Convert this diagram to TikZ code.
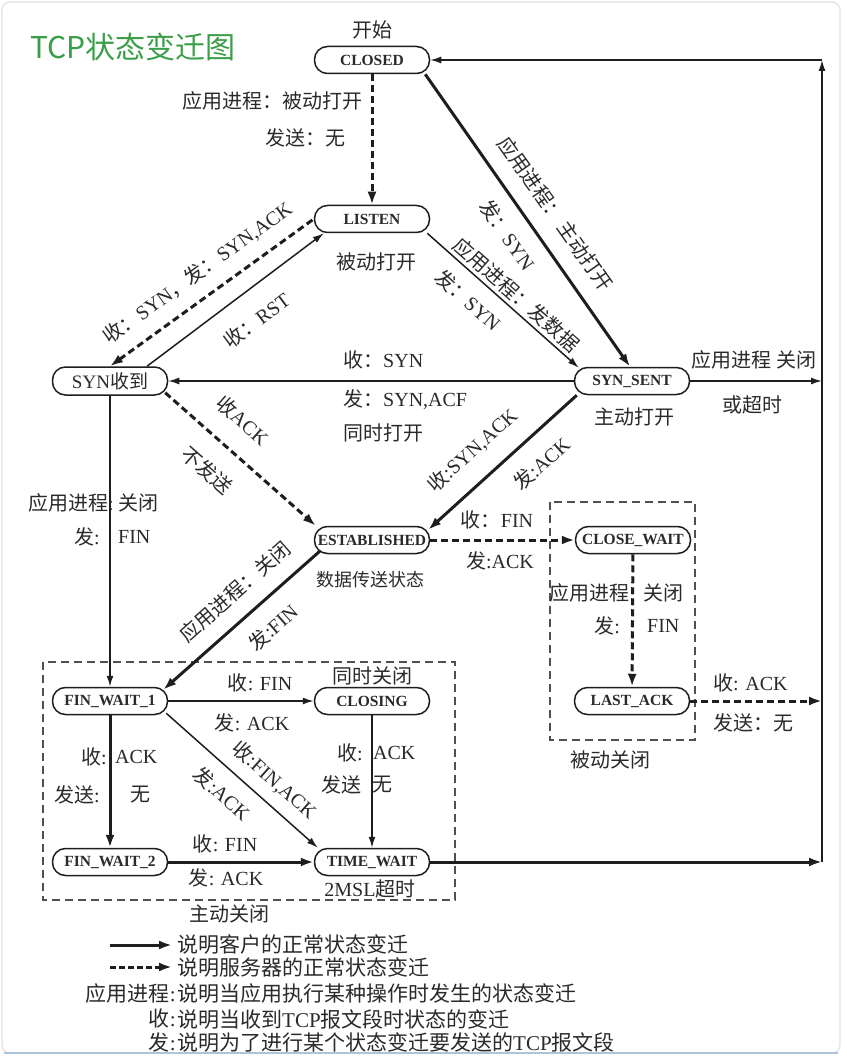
\documentclass[tikz,border=0pt]{standalone}
\usepackage{fontspec}
\setmainfont{Liberation Serif}
\newfontfamily\cjkfont{Noto Sans CJK SC}
\usetikzlibrary{arrows.meta}
\newcommand\Zh[1]{{\cjkfont #1}}
\definecolor{ink}{HTML}{1E1E1E}
\definecolor{txt}{HTML}{2A2A2A}
\definecolor{titlegreen}{RGB}{58,158,72}
\definecolor{boxgray}{HTML}{505050}
\definecolor{framegray}{HTML}{E2E2E2}
\definecolor{frameblue}{RGB}{175,195,220}
\tikzset{
  state/.style={draw=ink, line width=1.5pt, rounded corners=13pt, minimum width=115pt, minimum height=27pt, inner sep=1pt, text=txt, font=\fontsize{15.5}{16}\selectfont\bfseries},
  lab/.style={text=txt, inner sep=2pt, font=\fontsize{20}{22}\selectfont},
  leg/.style={text=txt, inner sep=2pt, font=\fontsize{21}{23}\selectfont},
  thinc/.style={draw=ink, line width=1.5pt, >={Latex[length=11pt,width=7pt]}},
  thickc/.style={draw=ink, line width=3pt, >={Latex[length=13pt,width=9pt]}},
  dashc/.style={draw=ink, line width=3pt, dash pattern=on 7pt off 4pt, >={Latex[length=13pt,width=9pt]}},
  groupbox/.style={draw=boxgray, line width=1.5pt, dash pattern=on 8pt off 5pt},
}
\begin{document}
\begin{tikzpicture}[x=1pt,y=-1pt]
\useasboundingbox (0,0) rectangle (846,1056);
\fill[white] (0,0) rectangle (846,1056);
\draw[framegray, line width=1.2pt, rounded corners=8pt] (2,2) rectangle (840,1053);
\draw[frameblue, line width=2pt] (4,1053) -- (838,1053);

\node[anchor=west, inner sep=0pt, text=titlegreen, font=\cjkfont\fontsize{30}{32}\selectfont] (title) at (30,47) {TCP状态变迁图};

% states
\node[state] (CLOSED) at (372,60) {CLOSED};
\node[state] (LISTEN) at (372,219) {LISTEN};
\node[state, font=\fontsize{19}{20}\selectfont, minimum height=28pt] (SYNR) at (110,381) {SYN\Zh{收到}};
\node[state] (SENT) at (632,381) {SYN\_SENT};
\node[state] (EST) at (372,540) {ESTABLISHED};
\node[state] (CW) at (633,540) {CLOSE\_WAIT};
\node[state] (LA) at (632,701) {LAST\_ACK};
\node[state] (FW1) at (110,701) {FIN\_WAIT\_1};
\node[state] (CLOSING) at (372,701) {CLOSING};
\node[state] (FW2) at (110,862) {FIN\_WAIT\_2};
\node[state] (TW) at (372,862) {TIME\_WAIT};

\coordinate (R1) at (822,60);
\coordinate (R2) at (822,381);
\coordinate (R3) at (822,701);
\coordinate (R4) at (822,862);

% group boxes
\draw[groupbox] (43,662) rectangle (455,900);
\draw[groupbox] (550,502) rectangle (695,740);

% state annotations
\node[lab] (tstart) at (372,30) {\Zh{开始}};
\node[lab] (t1) at (376,262) {\Zh{被动打开}};
\node[lab] (t2) at (634,417) {\Zh{主动打开}};
\node[lab, font=\fontsize{18}{20}\selectfont] (t3) at (370,580) {\Zh{数据传送状态}};
\node[lab] (t4) at (372,676) {\Zh{同时关闭}};
\node[lab] (t5) at (370,889) {2MSL\Zh{超时}};
\node[lab] (t6) at (229,914) {\Zh{主动关闭}};
\node[lab] (t7) at (610,760) {\Zh{被动关闭}};

% CLOSED -> LISTEN
\draw[dashc,->] (CLOSED) -- (LISTEN);
\node[lab, anchor=east] (l1a) at (365,101) {\Zh{应用进程：被动打开}};
\node[lab, anchor=east] (l1b) at (348,138) {\Zh{发送：无}};

% CLOSED -> SYN_SENT
\draw[thickc,->] ([xshift=-5pt]CLOSED.south east) -- ([xshift=-2pt]SENT.north)
  node[lab, sloped, pos=0.53, above=14pt] (l2a) {\Zh{应用进程：\,主动打开}}
  node[lab, sloped, pos=0.50, below=12pt] (l2b) {\Zh{发：}SYN};

% LISTEN -> SYN_SENT
\draw[thinc,->] ([xshift=-3pt]LISTEN.south east) -- ([xshift=5pt,yshift=-1pt]SENT.north west)
  node[lab, sloped, pos=0.53, above=1pt] (l3a) {\Zh{应用进程：发数据}}
  node[lab, sloped, pos=0.37, below=11pt] (l3b) {\Zh{发：}SYN};

% SYN_RCVD -> LISTEN
\draw[thinc,->] ([xshift=37pt]SYNR.north) -- ([xshift=10pt]LISTEN.south west)
  node[lab, sloped, pos=0.52, below=17pt] (l4) {\Zh{收：}RST};

% LISTEN -> SYN_RCVD
\draw[dashc,<-] (SYNR.north) -- (LISTEN.west)
  node[lab, sloped, pos=0.50, above=11pt] (l5) {\Zh{收：}SYN\Zh{，发：}SYN,ACK};

% SYN_SENT -> SYN_RCVD
\draw[thinc,->] (SENT) -- (SYNR);
\node[lab, anchor=west] (l6a) at (341,360) {\Zh{收：}SYN};
\node[lab, anchor=west] (l6b) at (341,400) {\Zh{发：}SYN,ACF};
\node[lab, anchor=west] (l6c) at (341,433) {\Zh{同时打开}};

% SYN_RCVD -> ESTABLISHED
\draw[dashc,->] ([xshift=-3pt,yshift=3pt]SYNR.south east) -- ([xshift=2pt]EST.north west)
  node[lab, sloped, pos=0.38, above=18pt] (l7a) {\Zh{收}ACK}
  node[lab, sloped, pos=0.41, below=18pt] (l7b) {\Zh{不发送}};

% SYN_SENT -> ESTABLISHED
\draw[thickc,<-] ([xshift=-2pt,yshift=-4pt]EST.north east) -- ([xshift=3pt]SENT.south west)
  node[lab, sloped, pos=0.43, above=16pt] (l8a) {\Zh{收}:SYN,ACK}
  node[lab, sloped, pos=0.64, below=14pt] (l8b) {\Zh{发}:ACK};

% SYN_SENT -> right
\draw[thinc,->] (SENT) -- (R2);
\node[lab] (l9a) at (754,360) {\Zh{应用进程 关闭}};
\node[lab] (l9b) at (752,405) {\Zh{或超时}};

% ESTABLISHED -> CLOSE_WAIT
\draw[dashc,->] (EST) -- (CW);
\node[lab] (l10a) at (497,520) {\Zh{收：}FIN};
\node[lab] (l10b) at (500,561) {\Zh{发}:ACK};

% CLOSE_WAIT -> LAST_ACK
\draw[dashc,->] (CW) -- (LA);
\node[lab, anchor=east] (l11a) at (632,593) {\Zh{应用进程}};
\node[lab, anchor=west] (l11b) at (641,593) {\Zh{关闭}};
\node[lab, anchor=east] (l11c) at (622,626) {\Zh{发}:};
\node[lab, anchor=west] (l11d) at (645,626) {FIN};

% LAST_ACK -> right
\draw[dashc,->] (LA) -- (R3);
\node[lab, anchor=west] (l12a) at (711,683) {\Zh{收}: ACK};
\node[lab, anchor=west] (l12b) at (711,723) {\Zh{发送：无}};

% SYN_RCVD -> FIN_WAIT_1
\draw[thinc,->] (SYNR) -- (FW1);
\node[lab, anchor=east] (l13a) at (116,503) {\Zh{应用进程}:};
\node[lab, anchor=west] (l13b) at (116,503) {\Zh{关闭}};
\node[lab, anchor=east] (l13c) at (102,537) {\Zh{发}:};
\node[lab, anchor=west] (l13d) at (116,537) {FIN};

% ESTABLISHED -> FIN_WAIT_1
\draw[thickc,<-] ([xshift=-5pt,yshift=-3pt]FW1.north east) -- ([xshift=6pt,yshift=3pt]EST.south west)
  node[lab, sloped, pos=0.57, above=13pt] (l14a) {\Zh{应用进程：关闭}}
  node[lab, sloped, pos=0.59, below=13pt] (l14b) {\Zh{发}:FIN};

% FIN_WAIT_1 -> CLOSING
\draw[thinc,->] (FW1) -- (CLOSING);
\node[lab] (l15a) at (260,683) {\Zh{收}: FIN};
\node[lab] (l15b) at (252,723) {\Zh{发}: ACK};

% FIN_WAIT_1 -> FIN_WAIT_2
\draw[thickc,->] (FW1) -- (FW2);
\node[lab, anchor=east] (l16a) at (109,757) {\Zh{收}:};
\node[lab, anchor=west] (l16b) at (113,757) {ACK};
\node[lab, anchor=east] (l16c) at (102,795) {\Zh{发送}:};
\node[lab, anchor=west] (l16d) at (128,795) {\Zh{无}};

% FIN_WAIT_1 -> TIME_WAIT
\draw[thinc,->] ([xshift=-2pt,yshift=2pt]FW1.south east) -- ([xshift=4pt]TW.north west)
  node[lab, sloped, pos=0.62, above=9pt] (l17a) {\Zh{收}:FIN,ACK}
  node[lab, sloped, pos=0.47, below=11pt] (l17b) {\Zh{发}:ACK};

% CLOSING -> TIME_WAIT
\draw[thinc,->] (CLOSING) -- (TW);
\node[lab, anchor=east] (l18a) at (365,753) {\Zh{收}:};
\node[lab, anchor=west] (l18b) at (371,753) {ACK};
\node[lab, anchor=east] (l18c) at (364,785) {\Zh{发送}};
\node[lab, anchor=west] (l18d) at (370,785) {\Zh{无}};

% FIN_WAIT_2 -> TIME_WAIT
\draw[thickc,->] (FW2) -- (TW);
\node[lab] (l19a) at (225,844) {\Zh{收}: FIN};
\node[lab] (l19b) at (226,878) {\Zh{发}: ACK};

% TIME_WAIT -> CLOSED loop
\draw[thickc,->] (TW) -- (R4);
\draw[thinc,->] (R4) -- (R1);
\draw[thinc,->] (R1) -- (CLOSED);

% legend
\coordinate (L1a) at (110,945);
\coordinate (L1b) at (172,945);
\coordinate (L2a) at (110,967);
\coordinate (L2b) at (172,967);
\draw[thickc,->] (L1a) -- (L1b);
\draw[dashc, dash pattern=on 6pt off 3pt,->] (L2a) -- (L2b);
\node[leg, anchor=west] (lg1) at (175,944) {\Zh{说明客户的正常状态变迁}};
\node[leg, anchor=west] (lg2) at (175,967) {\Zh{说明服务器的正常状态变迁}};
\node[leg, anchor=east] (lg3a) at (178,993) {\Zh{应用进程}:};
\node[leg, anchor=west] (lg3b) at (175,993) {\Zh{说明当应用执行某种操作时发生的状态变迁}};
\node[leg, anchor=east] (lg4a) at (178,1019) {\Zh{收}:};
\node[leg, anchor=west] (lg4b) at (175,1019) {\Zh{说明当收到}TCP\Zh{报文段时状态的变迁}};
\node[leg, anchor=east] (lg5a) at (178,1042) {\Zh{发}:};
\node[leg, anchor=west] (lg5b) at (175,1042) {\Zh{说明为了进行某个状态变迁要发送的}TCP\Zh{报文段}};
\end{tikzpicture}
\end{document}
